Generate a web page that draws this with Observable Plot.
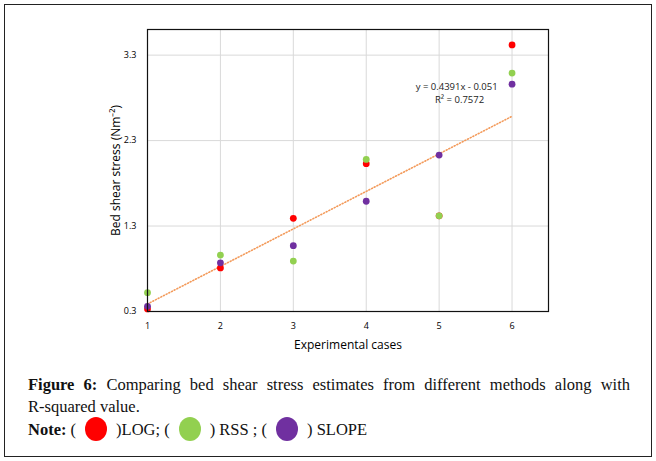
<!DOCTYPE html>
<html>
<head>
<meta charset="utf-8">
<script src="https://cdn.jsdelivr.net/npm/d3@7"></script>
<script src="https://cdn.jsdelivr.net/npm/@observablehq/plot@0.6"></script>
<style>
  html, body { margin: 0; padding: 0; background: #fff; }
  #frame { position: absolute; left: 4px; top: 4px; width: 646px; height: 451px; border: 1.5px solid #222; }
  #chart { position: absolute; left: 0; top: 0; }
  #caption { position: absolute; left: 28px; top: 374px; width: 602px; font-family: "Liberation Serif", serif; font-size: 16.5px; line-height: 21.5px; color: #111; }
  #caption .l1 { text-align: justify; text-align-last: justify; }
  .sw { display: inline-block; width: 22px; height: 24px; border-radius: 50%; vertical-align: -6px; margin: 0 9px; }
</style>
</head>
<body>
<div id="frame"></div>
<div id="chart"></div>
<div id="caption">
  <div class="l1"><b>Figure 6:</b> Comparing bed shear stress estimates from different methods along with</div>
  <div>R-squared value.</div>
  <div><b>Note:</b> (<span class="sw" style="background:#ff0000"></span>)LOG; (<span class="sw" style="background:#92d050"></span>) RSS ; (<span class="sw" style="background:#7030a0"></span>) SLOPE</div>
</div>
<script>
const cases = [1, 2, 3, 4, 5, 6];
const logValues = [0.33, 0.81, 1.39, 2.03, 1.42, 3.42];
const rssValues = [0.52, 0.96, 0.89, 2.08, 1.42, 3.09];
const slopeValues = [0.36, 0.87, 1.07, 1.59, 2.13, 2.96];
const seriesNames = ["LOG", "RSS", "SLOPE"];
const seriesColors = ["#ff0000", "#92d050", "#7030a0"];
const xTicks = [1, 2, 3, 4, 5, 6];
const yTicks = [0.3, 1.3, 2.3, 3.3];
const trendX = [1, 6];
const trendY = [0.388, 2.584];
const trendLabel = ["y = 0.4391x - 0.051", "R² = 0.7572"];

const points = [];
[logValues, rssValues, slopeValues].forEach((vals, si) => {
  vals.forEach((v, i) => points.push({x: cases[i], y: v, s: seriesNames[si]}));
});
const trend = trendX.map((x, i) => ({x, y: trendY[i]}));

const plot = Plot.plot({
  width: 656,
  height: 360,
  marginLeft: 147,
  marginRight: 108,
  marginTop: 29,
  marginBottom: 49,
  style: {fontFamily: "'Open Sans', sans-serif", background: "transparent"},
  x: {domain: [1, 6.5], ticks: xTicks},
  y: {domain: [0.3, 3.6], ticks: yTicks},
  color: {domain: seriesNames, range: seriesColors},
  marks: [
    Plot.gridX(xTicks, {stroke: "#d9d9d9", strokeOpacity: 1, strokeWidth: 1}),
    Plot.gridY(yTicks, {stroke: "#d9d9d9", strokeOpacity: 1, strokeWidth: 1}),
    Plot.axisX({ticks: xTicks, tickSize: 0, tickPadding: 11, fontSize: 9, tickFormat: d => String(d), label: "Experimental cases", labelAnchor: "center", labelArrow: "none", labelOffset: 37}),
    Plot.axisY({ticks: yTicks, tickSize: 0, tickPadding: 11, fontSize: 9, tickFormat: d => d.toFixed(1), label: "Bed shear stress (Nm⁻²)", labelAnchor: "center", labelArrow: "none", labelOffset: 36}),
    Plot.line(trend, {x: "x", y: "y", stroke: "#f39a5a", strokeWidth: 1.6, strokeDasharray: "1,2"}),
    Plot.dot(points, {x: "x", y: "y", fill: "s", r: 3.4}),
    Plot.text([trendLabel[0]], {x: [5.24], y: [2.93], text: d => d, fontSize: 9.5, fill: "#222"}),
    Plot.text([trendLabel[1]], {x: [5.28], y: [2.78], text: d => d, fontSize: 9.5, fill: "#222"}),
    Plot.frame({stroke: "#111", strokeWidth: 1.2})
  ]
});
document.getElementById("chart").appendChild(plot);
d3.select(plot).selectAll("g[aria-label='x-axis label'] text, g[aria-label='y-axis label'] text").style("font-size", "12px").style("font-family", "'Open Sans', sans-serif");
</script>
</body>
</html>
